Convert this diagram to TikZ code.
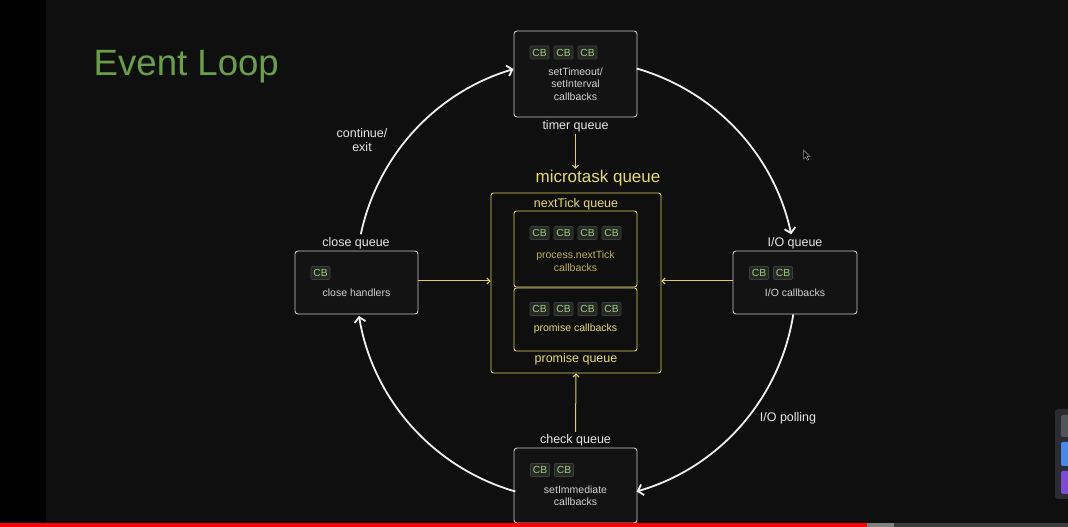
\documentclass[tikz,border=0pt]{standalone}
\usepackage{fontspec}
\setmainfont{Liberation Sans}
\usetikzlibrary{arrows.meta,calc}
\definecolor{bg}{HTML}{0F0F0F}
\definecolor{boxfill}{HTML}{131313}
\definecolor{boxline}{HTML}{C8C8C8}
\definecolor{arcwhite}{HTML}{EFEFEF}
\definecolor{yel}{HTML}{DDD060}
\definecolor{yeltext}{HTML}{E6DB72}
\definecolor{yeldim}{HTML}{BDB257}
\definecolor{titlegreen}{HTML}{6A9E4A}
\definecolor{chipgreen}{HTML}{9CCF78}
\definecolor{chipfill}{HTML}{262826}
\definecolor{chipline}{HTML}{3E403E}
\definecolor{lbltext}{HTML}{E6E6E6}
\definecolor{boxtext}{HTML}{D2D2D2}
\definecolor{wpanel}{HTML}{2B2C31}
\definecolor{wgray}{HTML}{53535A}
\definecolor{wblue}{HTML}{4A87E8}
\definecolor{wpurple}{HTML}{7A4CD8}
\definecolor{bardark}{HTML}{3C3C3C}
\definecolor{barred}{HTML}{FF0000}
\begin{document}
\begin{tikzpicture}[x=1pt,y=1pt,
  box/.style={draw=boxline, fill=boxfill, rounded corners=3pt, line width=0.9pt, minimum width=123pt, inner sep=0pt},
  ybox/.style={draw=yel, rounded corners=2.5pt, line width=0.9pt, inner sep=0pt},
  chip/.style={draw=chipline, fill=chipfill, rounded corners=1pt, line width=0.6pt, minimum width=19pt, minimum height=13pt, inner sep=0pt, text=chipgreen, font=\fontsize{10.3}{10}\selectfont},
  lbl/.style={text=lbltext, font=\fontsize{12.5}{14}\selectfont, inner sep=1pt, align=center},
  btxt/.style={text=boxtext, font=\fontsize{10.5}{12.5}\selectfont, align=center, inner sep=0pt},
  loopar/.style={draw=arcwhite, line width=1.8pt, -{Straight Barb[length=5pt,width=11pt]}},
  yar/.style={draw=yel, line width=1pt, -{Straight Barb[length=3pt,width=6pt]}},
]
\useasboundingbox (0,0) rectangle (1068,527);
% background
\fill[bg] (0,0) rectangle (1068,527);
\fill[black] (0,0) rectangle (46,527);
% title
\node[anchor=base west, inner sep=0pt, text=titlegreen, font=\fontsize{36.6}{40}\selectfont] (title) at (93.5,451) {Event Loop};

% top box (timer queue)
\node[box, minimum height=86pt] (top) at (575.5,453) {};
\node[chip] (t1) at (539.5,474.5) {CB};
\node[chip] (t2) at (563.5,474.5) {CB};
\node[chip] (t3) at (587.5,474.5) {CB};
\node[btxt] (ttxt) at (575.5,443) {setTimeout/\\setInterval\\callbacks};
\node[lbl] (timerlbl) at (575.5,401) {timer queue};

% microtask area
\node[text=yeltext, font=\fontsize{17}{19}\selectfont, inner sep=1pt] (micro) at (598,349) {microtask queue};
\node[ybox, minimum width=170pt, minimum height=180pt] (outer) at (576,244) {};
\node[text=yeltext, font=\fontsize{12.5}{14}\selectfont, inner sep=0pt] (ntq) at (576,323) {nextTick queue};
\node[ybox, minimum width=123pt, minimum height=76pt] (inner1) at (575.5,278) {};
\node[chip] (n1) at (539.5,294) {CB};
\node[chip] (n2) at (563.5,294) {CB};
\node[chip] (n3) at (587.5,294) {CB};
\node[chip] (n4) at (611.5,294) {CB};
\node[text=yeldim, font=\fontsize{10.5}{12.5}\selectfont, align=center, inner sep=0pt] (ntxt) at (575.5,265.5) {process.nextTick\\callbacks};
\node[ybox, minimum width=123pt, minimum height=63pt] (inner2) at (575.5,207.5) {};
\node[chip] (p1) at (539.5,218) {CB};
\node[chip] (p2) at (563.5,218) {CB};
\node[chip] (p3) at (587.5,218) {CB};
\node[chip] (p4) at (611.5,218) {CB};
\node[text=yeltext, font=\fontsize{10.5}{12.5}\selectfont, inner sep=0pt] (ptxt) at (575.5,198) {promise callbacks};
\node[text=yeltext, font=\fontsize{12.5}{14}\selectfont, inner sep=0pt] (pq) at (576,168) {promise queue};

% close box
\node[box, minimum height=63pt] (close) at (356.5,244.5) {};
\node[chip] (c1) at (320.5,254) {CB};
\node[btxt] (ctxt) at (356.5,234) {close handlers};
\node[lbl] (closelbl) at (356,284) {close queue};

% I/O box
\node[box, minimum height=63pt, minimum width=124pt] (io) at (795,244.5) {};
\node[chip] (i1) at (759,254) {CB};
\node[chip] (i2) at (783,254) {CB};
\node[btxt] (itxt) at (795,234) {I/O callbacks};
\node[lbl] (iolbl) at (795,284) {I/O queue};

% check box
\node[box, minimum height=75pt] (check) at (575.5,41.5) {};
\node[chip] (k1) at (540,57) {CB};
\node[chip] (k2) at (564,57) {CB};
\node[btxt] (ktxt) at (575.5,31.5) {setImmediate\\callbacks};
\node[lbl] (checklbl) at (575.5,87) {check queue};

% loop labels
\node[lbl] (cont) at (362,386.5) {continue/\\exit};
\node[lbl] (poll) at (788,109) {I/O polling};

% yellow connectors
\draw[yar] (timerlbl.south) ++(0,-1) coordinate (ya) -- (micro.north -| ya);
\draw[yar] (close.east) ++(0,1.5) coordinate (yc) -- (outer.west |- yc);
\draw[yar] (io.west) ++(0,1.5) coordinate (yd) -- (outer.east |- yd);
\draw[yar] (checklbl.north) ++(0,1) coordinate (yb) -- (outer.south);

% event loop arcs (circle centre (576,247), radius 220)
\coordinate (C) at (576,247);
\coordinate (a1) at ($(C)+(74:220)$);
\coordinate (a2) at ($(C)+(-9:220)$);
\coordinate (a3) at ($(C)+(-106:220)$);
\coordinate (a4) at ($(C)+(168:220)$);
\draw[loopar] (a1) arc[start angle=74, end angle=12, radius=220pt];
\draw[loopar] (a2) arc[start angle=-9, end angle=-74, radius=220pt];
\draw[loopar] (a3) arc[start angle=-106, end angle=-170.6, radius=220pt];
\draw[loopar] (a4) arc[start angle=168, end angle=106.5, radius=220pt];

% mouse cursor
\draw[fill=black, draw=gray!80, line width=0.5pt, shift={(803.5,377)}]
  (0,0) -- (0,-9) -- (2.2,-7) -- (3.8,-10.2) -- (5.2,-9.6) -- (3.6,-6.5) -- (6.5,-6.5) -- cycle;

% right-edge widget
\fill[wpanel, rounded corners=3pt] (1055,28) rectangle (1075,118);
\fill[wgray, rounded corners=2pt] (1061,90) rectangle (1080,112);
\fill[wblue, rounded corners=2pt] (1061,61) rectangle (1080,85);
\fill[wpurple, rounded corners=2pt] (1061,33) rectangle (1080,56);

% progress bar
\fill[barred] (0,0) rectangle (867,3.5);
\fill[gray] (867,0) rectangle (894,3.5);
\fill[bardark] (894,0) rectangle (1068,3.5);
\end{tikzpicture}
\end{document}
